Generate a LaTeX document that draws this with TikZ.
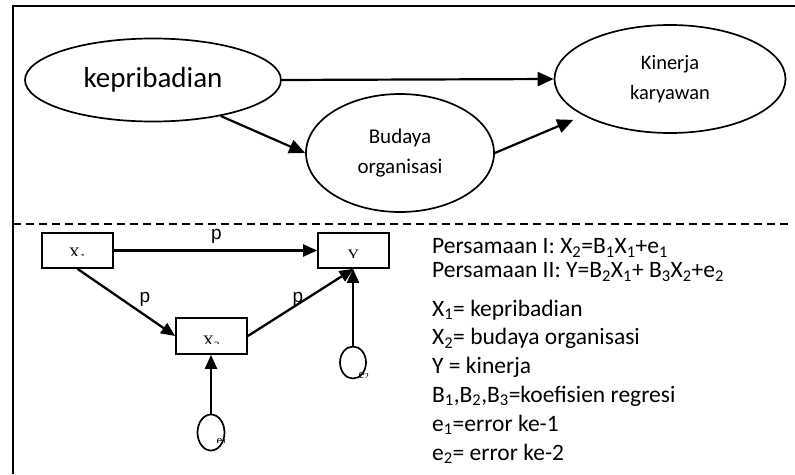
\documentclass[tikz,border=0pt]{standalone}
\usepackage{fontspec}
\setmainfont{Carlito}
\newfontfamily\arialfont{Liberation Sans}
\newfontfamily\timesfont{Liberation Serif}
\usetikzlibrary{shapes.geometric,arrows.meta,calc}

\begin{document}
\begin{tikzpicture}[x=1pt,y=-1pt,
  construct/.style={ellipse,draw,line width=1.7pt,inner sep=0pt,align=center},
  bigarrow/.style={line width=2.2pt,-{Triangle[length=16pt,width=14pt]}},
  patharrow/.style={line width=2.3pt,-{Triangle[length=14pt,width=12pt]}},
  varbox/.style={draw,line width=1.7pt,minimum width=71pt,minimum height=35pt,inner sep=0pt},
  errnode/.style={ellipse,draw,line width=1.7pt,inner sep=0pt},
  boxlabel/.style={font=\timesfont\fontsize{16}{19}\selectfont,inner sep=0pt,anchor=base},
  errlabel/.style={font=\timesfont\fontsize{13}{15}\selectfont,inner sep=0pt,anchor=base west},
  coef/.style={font=\arialfont\fontsize{19}{22}\selectfont,inner sep=0pt,anchor=base},
  legend/.style={font=\fontsize{23.5}{28}\selectfont,inner sep=0pt,anchor=base west},
]
\useasboundingbox (0,0) rectangle (795,474);

% frame and separator
\draw[line width=1.9pt] (13,474) -- (13,6) -- (795,6);
\draw[line width=1.6pt,dash pattern=on 8pt off 5pt] (13,224) -- (788,224);

% conceptual model
\node[construct,minimum width=256pt,minimum height=83pt,font=\fontsize{29}{35}\selectfont] (kep) at (153,80) {kepribadian};
\node[construct,minimum width=231pt,minimum height=108pt,font=\fontsize{20.5}{29.5}\selectfont] (kin) at (670,79) {Kinerja\\karyawan};
\node[construct,minimum width=188pt,minimum height=118pt,font=\fontsize{21}{30}\selectfont] (bud) at (400,153) {Budaya\\organisasi};

\draw[bigarrow] (kep.east) -- (kin.west);
\draw[bigarrow] (kep.-28) -- (bud.west);
\draw[bigarrow,shorten >=11pt] (bud.east) -- (kin);

% path model
\node[varbox] (x1) at (77.5,250.5) {};
\node[varbox] (yv) at (353.5,250.5) {};
\node[varbox,minimum height=36pt] (x2) at (211.5,336) {};
\node[errnode,minimum width=27pt,minimum height=36pt] (e1) at (211,432.5) {};
\node[errnode,minimum width=26pt,minimum height=32pt] (e2) at (353,362.5) {};

\begin{scope}
  \clip ([yshift=-1pt]x1.north west) rectangle ([yshift=-23pt]x1.north east);
  \node[boxlabel] (x1lab) at ([yshift=-26.5pt]x1.north) {X\textsubscript{1}};
\end{scope}
\begin{scope}
  \clip ([yshift=-1pt]yv.north west) rectangle ([yshift=-25pt]yv.north east);
  \node[boxlabel] (yvlab) at ([yshift=-28.5pt]yv.north) {Y};
\end{scope}
\begin{scope}
  \clip ([yshift=-1pt]x2.north west) rectangle ([yshift=-26pt]x2.north east);
  \node[boxlabel] (x2lab) at ([yshift=-29.5pt]x2.north) {X\textsubscript{2}};
\end{scope}
\begin{scope}
  \clip (205,425) rectangle (232,442);
  \node[errlabel] (e1lab) at (216.5,444) {e\textsubscript{1}};
\end{scope}
\begin{scope}
  \clip (350,360) rectangle (376,377);
  \node[errlabel] (e2lab) at (358.5,378) {e\textsubscript{2}};
\end{scope}

\draw[patharrow] (x1.east) -- (yv.west);
\draw[patharrow] (x1.south) -- (x2.west);
\draw[patharrow] (x2.east) -- (yv.south);
\draw[patharrow] (e1.north) -- (e1.north |- x2.south);
\draw[patharrow] (e2.north) -- (e2.north |- yv.south);

\node[coef] (p1) at (216.5,239.5) {p};
\node[coef] (p2) at (145,302) {p};
\node[coef] (p3) at (298,302) {p};

% equations and legend
\node[legend] (eq1) at (432,253.5) {Persamaan I: X\textsubscript{2}=B\textsubscript{1}X\textsubscript{1}+e\textsubscript{1}};
\node[legend] (eq2) at (432,277.5) {Persamaan II: Y=B\textsubscript{2}X\textsubscript{1}+ B\textsubscript{3}X\textsubscript{2}+e\textsubscript{2}};
\node[legend] (d1) at (432,316) {X\textsubscript{1}= kepribadian};
\node[legend] (d2) at (432,344.5) {X\textsubscript{2}= budaya organisasi};
\node[legend] (d3) at (432,373) {Y = kinerja};
\node[legend] (d4) at (432,402) {B\textsubscript{1},B\textsubscript{2},B\textsubscript{3}=koefisien regresi};
\node[legend] (d5) at (432,431) {e\textsubscript{1}=error ke-1};
\node[legend] (d6) at (432,460) {e\textsubscript{2}= error ke-2};
\end{tikzpicture}
\end{document}
